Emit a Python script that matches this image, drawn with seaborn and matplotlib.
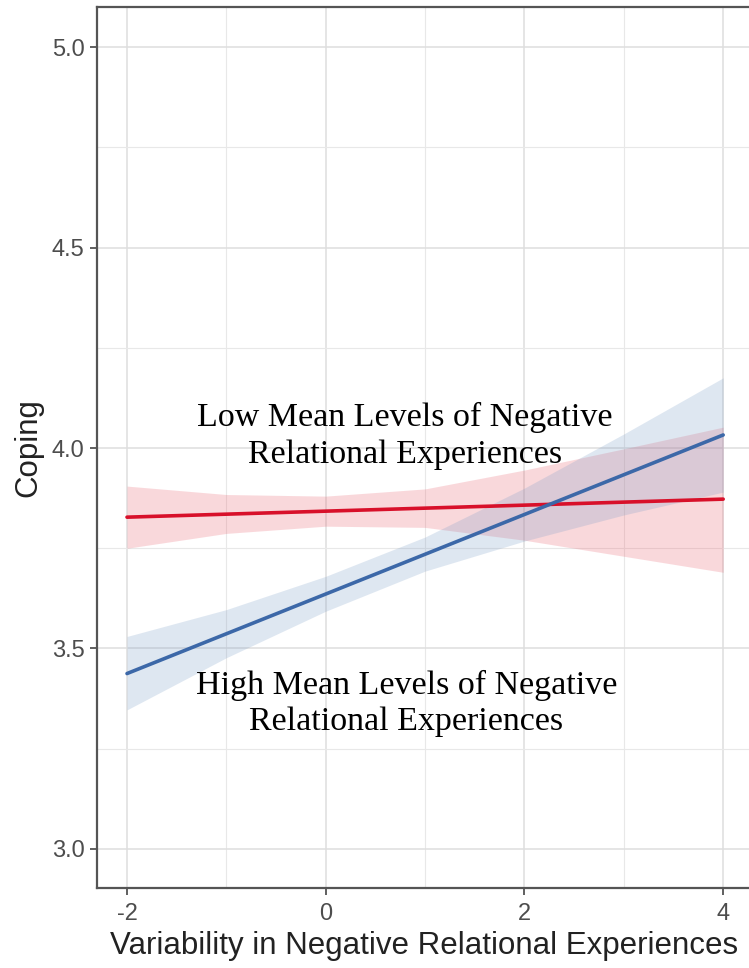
import matplotlib
matplotlib.use("Agg")
import matplotlib.pyplot as plt
import seaborn as sns
import pandas as pd
import numpy as np

# ---- data ----
x_pts = [-2, -1, 0, 1, 2, 3, 4]
low_mean_fit = [3.8275, 3.835, 3.8425, 3.85, 3.8575, 3.865, 3.8725]
low_mean_lo = [3.750, 3.787, 3.805, 3.802, 3.770, 3.730, 3.690]
low_mean_hi = [3.905, 3.884, 3.880, 3.898, 3.945, 3.998, 4.052]
high_mean_fit = [3.4375, 3.5367, 3.6358, 3.735, 3.8342, 3.9333, 4.0325]
high_mean_lo = [3.347, 3.477, 3.593, 3.693, 3.768, 3.833, 3.890]
high_mean_hi = [3.530, 3.597, 3.680, 3.778, 3.900, 4.035, 4.175]

x_ticks = [-2, 0, 2, 4]
y_ticks = [3.0, 3.5, 4.0, 4.5, 5.0]
x_label = "Variability in Negative Relational Experiences"
y_label = "Coping"
low_label = "Low Mean Levels of Negative\nRelational Experiences"
high_label = "High Mean Levels of Negative\nRelational Experiences"

red = "#D8102A"
blue = "#3C68A8"

df = pd.DataFrame({
    "x": x_pts * 2,
    "y": low_mean_fit + high_mean_fit,
    "group": ["low"] * len(x_pts) + ["high"] * len(x_pts),
})

sns.set_theme(style="white")
plt.rcParams["font.family"] = ["Liberation Sans", "DejaVu Sans"]

fig = plt.figure(figsize=(7.49, 9.68), dpi=100)
ax = fig.add_axes([97 / 749, 1 - 888 / 968, (752 - 97) / 749, (888 - 7) / 968])

# bands
ax.fill_between(x_pts, low_mean_lo, low_mean_hi, color="#E8505F", alpha=0.22, lw=0, zorder=2)
ax.fill_between(x_pts, high_mean_lo, high_mean_hi, color="#7FA0C8", alpha=0.25, lw=0, zorder=2)

sns.lineplot(data=df, x="x", y="y", hue="group", hue_order=["low", "high"],
             palette={"low": red, "high": blue}, linewidth=2.6, legend=False,
             ax=ax, zorder=3)

ax.set_xlim(-2.302, 4.29)
ax.set_ylim(2.9027, 5.0998)
ax.set_xticks(x_ticks)
ax.set_xticklabels(["-2", "0", "2", "4"])
ax.set_yticks(y_ticks)
ax.set_yticklabels([f"{v:.1f}" for v in y_ticks])
ax.set_xticks([-1, 1, 3], minor=True)
ax.set_yticks([3.25, 3.75, 4.25, 4.75], minor=True)

ax.grid(which="major", color="#DEDEDE", linewidth=1.1, zorder=0)
ax.grid(which="minor", color="#E8E8E8", linewidth=0.8, zorder=0)
ax.set_axisbelow(True)

for side in ["left", "top", "bottom"]:
    ax.spines[side].set_color("#555555")
    ax.spines[side].set_linewidth(1.6)
ax.spines["right"].set_visible(False)

ax.tick_params(axis="both", which="major", length=5, width=1.2, color="#444444",
               labelsize=17, labelcolor="#4D4D4D", pad=4, direction="out",
               bottom=True, left=True)
ax.tick_params(axis="x", which="major", pad=6)
ax.tick_params(axis="both", which="minor", length=0)

ax.set_xlabel(x_label, fontsize=22.5, color="#222222", labelpad=4)
ax.set_ylabel(y_label, fontsize=22.5, color="#222222", labelpad=6)

ax.text(0.80, 4.03, low_label, family=["Liberation Serif", "DejaVu Serif"],
        fontsize=24.5, ha="center", va="center", linespacing=1.27, color="black", zorder=5)
ax.text(0.81, 3.363, high_label, family=["Liberation Serif", "DejaVu Serif"],
        fontsize=24.5, ha="center", va="center", linespacing=1.27, color="black", zorder=5)

fig.savefig("out.png", dpi=100)
